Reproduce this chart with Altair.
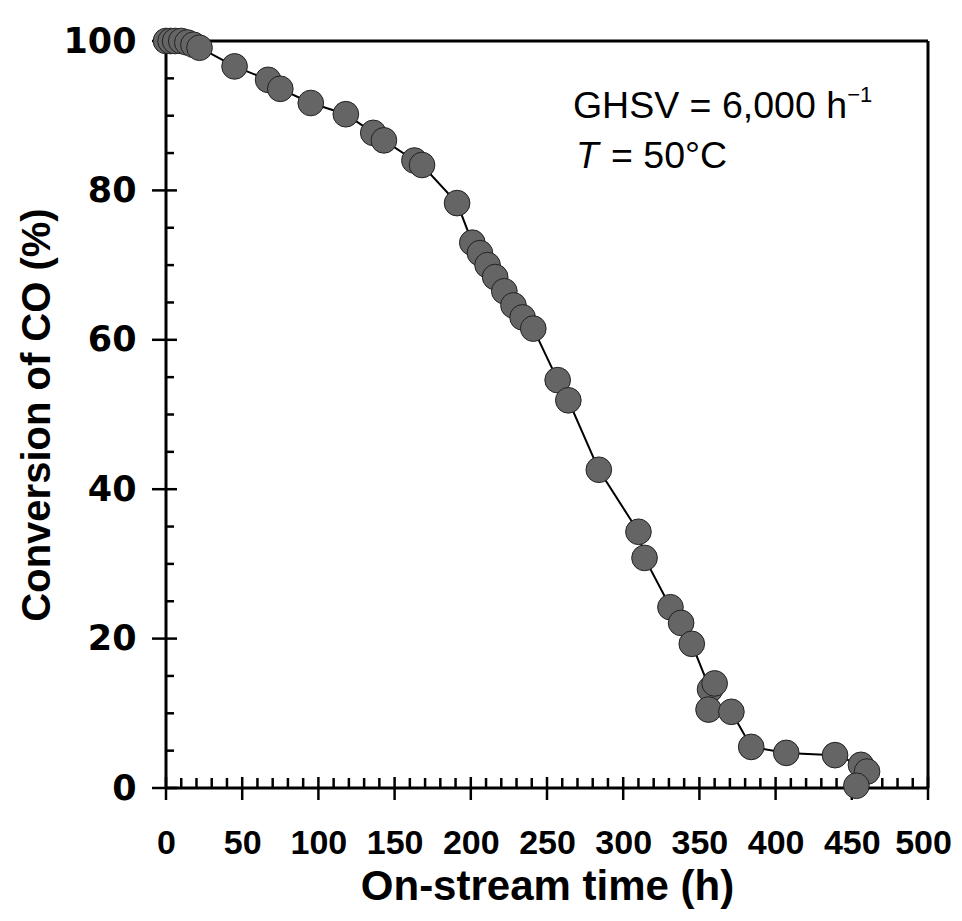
import altair as alt
import pandas as pd

# ---- data ----
time_h = [0, 3, 6, 10, 14, 18, 22, 45, 67, 75, 95, 118, 136, 143, 163, 168, 191,
          201, 206, 211, 216, 222, 228, 234, 241, 257, 264, 284, 310, 314, 331, 338,
          345, 357, 360, 356, 371, 384, 407, 439, 456, 460, 453]
conversion = [100, 100, 100, 100, 99.8, 99.5, 99.1, 96.6, 94.8, 93.6, 91.7, 90.2, 87.7,
              86.7, 84.0, 83.4, 78.3, 73.0, 71.6, 70.0, 68.4, 66.5, 64.6, 63.0, 61.5,
              54.6, 51.9, 42.6, 34.3, 30.8, 24.2, 22.1, 19.3, 13.2, 14.0, 10.5, 10.2,
              5.5, 4.7, 4.4, 3.1, 2.2, 0.3]

x_major = [0, 50, 100, 150, 200, 250, 300, 350, 400, 450, 500]
x_minor = [v for v in range(10, 500, 10) if v % 50 != 0]
y_major = [0, 20, 40, 60, 80, 100]
y_minor = [v for v in range(5, 100, 5) if v % 20 != 0]

x_title = "On-stream time (h)"
y_title = "Conversion of CO (%)"
note1 = "GHSV = 6,000 h"
note1_sup = "\u22121"
note2_T = "T"
note2_rest = "= 50\u00b0C"

df = pd.DataFrame({"t": time_h, "c": conversion, "i": list(range(len(time_h)))})

xs = alt.Scale(domain=[0, 500], nice=False, zero=False)
ys = alt.Scale(domain=[0, 100], nice=False, zero=False)

x_axis = alt.Axis(values=x_major, title=x_title, ticks=False, tickSize=0, domain=False,
                  grid=False, labelFont="Liberation Sans", labelFontSize=34,
                  labelFontWeight="bold", labelColor="black", labelPadding=38,
                  labelOffset=alt.ExprRef(expr="datum.value == 500 ? -5 : 0"),
                  titleFont="Liberation Sans", titleFontSize=42, titleFontWeight="bold",
                  titleColor="black", titlePadding=6, labelFlush=False)
y_axis = alt.Axis(values=y_major, title=y_title, ticks=False, tickSize=0, domain=False,
                  grid=False, labelFont="DejaVu Sans", labelFontSize=35,
                  labelFontWeight="bold", labelColor="black", labelPadding=30,
                  titleFont="Liberation Sans", titleFontSize=40, titleFontWeight="bold",
                  titleColor="black", titlePadding=5, labelFlush=False)

line = alt.Chart(df).mark_line(color="black", strokeWidth=2).encode(
    x=alt.X("t:Q", scale=xs, axis=x_axis),
    y=alt.Y("c:Q", scale=ys, axis=y_axis),
    order="i:Q",
)
points = alt.Chart(df).mark_point(filled=True, shape="circle", size=660, color="#656565",
                                  opacity=1, stroke="#222222", strokeWidth=1).encode(
    x=alt.X("t:Q", scale=xs, axis=x_axis),
    y=alt.Y("c:Q", scale=ys, axis=y_axis),
)

# frame / axis lines
frame = pd.DataFrame({"x1": [0, 0, 0, 500], "x2": [500, 0, 500, 500],
                      "y1": [0, 0, 100, 0], "y2": [0, 100, 100, 100]})
frame_lines = alt.Chart(frame).mark_rule(color="black", strokeWidth=3).encode(
    x=alt.X("x1:Q", scale=xs, axis=x_axis), x2="x2:Q",
    y=alt.Y("y1:Q", scale=ys, axis=y_axis), y2="y2:Q",
)

xmaj = alt.Chart(pd.DataFrame({"v": x_major})).mark_rule(
    color="black", strokeWidth=2.5, yOffset=-11, y2Offset=12).encode(
    x=alt.X("v:Q", scale=xs, axis=x_axis),
    y=alt.YDatum(0, scale=ys, axis=y_axis), y2=alt.Y2Datum(0))
xmin = alt.Chart(pd.DataFrame({"v": x_minor})).mark_rule(
    color="black", strokeWidth=2.5, yOffset=-10, y2Offset=0).encode(
    x=alt.X("v:Q", scale=xs, axis=x_axis),
    y=alt.YDatum(0, scale=ys, axis=y_axis), y2=alt.Y2Datum(0))
ymaj = alt.Chart(pd.DataFrame({"v": y_major})).mark_rule(
    color="black", strokeWidth=2.5, xOffset=-14, x2Offset=11).encode(
    y=alt.Y("v:Q", scale=ys, axis=y_axis),
    x=alt.XDatum(0, scale=xs, axis=x_axis), x2=alt.X2Datum(0))
ymin = alt.Chart(pd.DataFrame({"v": y_minor})).mark_rule(
    color="black", strokeWidth=2.5, xOffset=0, x2Offset=8).encode(
    y=alt.Y("v:Q", scale=ys, axis=y_axis),
    x=alt.XDatum(0, scale=xs, axis=x_axis), x2=alt.X2Datum(0))

def note(text, x, y, size, style="normal"):
    return alt.Chart(pd.DataFrame({"a": [0]})).mark_text(
        text=text, align="left", baseline="alphabetic", font="Liberation Sans",
        fontSize=size, fontStyle=style, color="black").encode(
        x=alt.XDatum(x, scale=xs, axis=x_axis), y=alt.YDatum(y, scale=ys, axis=y_axis))

notes = (note(note1, 267, 89.7, 37.5) + note(note1_sup, 447, 91.9, 22)
         + note(note2_T, 269, 83.0, 37, "italic") + note(note2_rest, 292, 83.0, 37.5))

chart = alt.layer(line, frame_lines, xmin, xmaj, ymin, ymaj, points, notes).properties(
    width=762, height=747,
    autosize=alt.AutoSizeParams(type="none"),
    padding={"left": 158, "top": 33, "right": 26, "bottom": 122},
).configure_view(stroke=None).configure(background="white")

chart.save("out.html", embed_options={"renderer": "svg", "actions": False})
